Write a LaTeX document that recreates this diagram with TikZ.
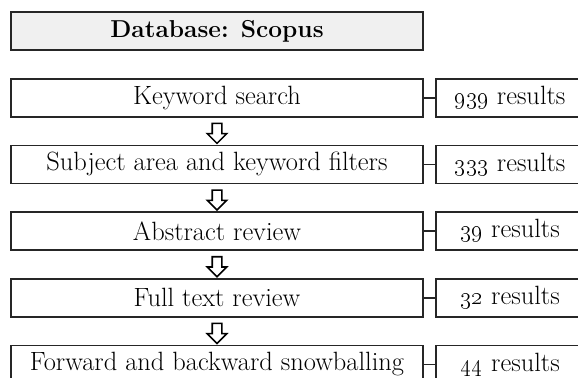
\documentclass[tikz,border=0pt]{standalone}
\usepackage{tikz}
\usetikzlibrary{arrows,shapes,shapes.arrows,automata,positioning,calc}

\begin{document}
\begin{tikzpicture}[-,>=stealth',auto,
node distance=1.667cm,
semithick, font=\fontsize{18.8}{21}\selectfont]

\tikzstyle{every state}=[rectangle, minimum width=10.3cm, minimum height=0.95cm, text centered,
fill=none, draw=black!85, text=black, line width=1.2pt, inner sep=0pt]
\tikzstyle{result}=[state, minimum width=3.7cm]
\tikzstyle{down}=[single arrow, draw=black, line width=1.1pt, fill=white, shape border rotate=270,
minimum height=0.5cm, minimum width=0.45cm, single arrow head extend=0.125cm, inner sep=0.1cm]

\clip (0,0) rectangle (14.45,-9.45);

%steps
\node[state,fill=gray!12]
(dbase) at (5.425,-0.775)
{\fontsize{17.4}{20}\selectfont\textbf{Database: Scopus}};

\node[state]
(kwsearch) [below of=dbase]
{Keyword search};

\node[state]
(filters) [below of=kwsearch]
{Subject area and keyword filters};

\node[state]
(abstr) [below of=filters]
{Abstract review};

\node[state]
(fulltext) [below of=abstr]
{Full text review};

\node[state]
(snowball) [below of=fulltext]
{Forward and backward snowballing};

%results
\node[result]
(rkw) [right of=kwsearch, xshift=5.66cm]
{\oldstylenums{939} results};

\node[result]
(rfilt) [right of=filters, xshift=5.66cm]
{\oldstylenums{333} results};

\node[result]
(rabstr) [right of=abstr, xshift=5.66cm]
{\oldstylenums{39} results};

\node[result]
(rfull) [right of=fulltext, xshift=5.66cm]
{\oldstylenums{32} results};

\node[result]
(rsnow) [right of=snowball, xshift=5.66cm]
{\oldstylenums{44} results};

%arrows between steps
\node[down] (a1) at ($(kwsearch.south)!0.5!(filters.north)$) {};
\node[down] (a2) at ($(filters.south)!0.5!(abstr.north)$) {};
\node[down] (a3) at ($(abstr.south)!0.5!(fulltext.north)$) {};
\node[down] (a4) at ($(fulltext.south)!0.5!(snowball.north)$) {};

\path[line width=1.2pt, draw=black!85] (kwsearch) edge (rkw);
\path[line width=1.2pt, draw=black!85] (filters) edge (rfilt);
\path[line width=1.2pt, draw=black!85] (abstr) edge (rabstr);
\path[line width=1.2pt, draw=black!85] (fulltext) edge (rfull);
\path[line width=1.2pt, draw=black!85] (snowball) edge (rsnow);

\end{tikzpicture}
\end{document}
